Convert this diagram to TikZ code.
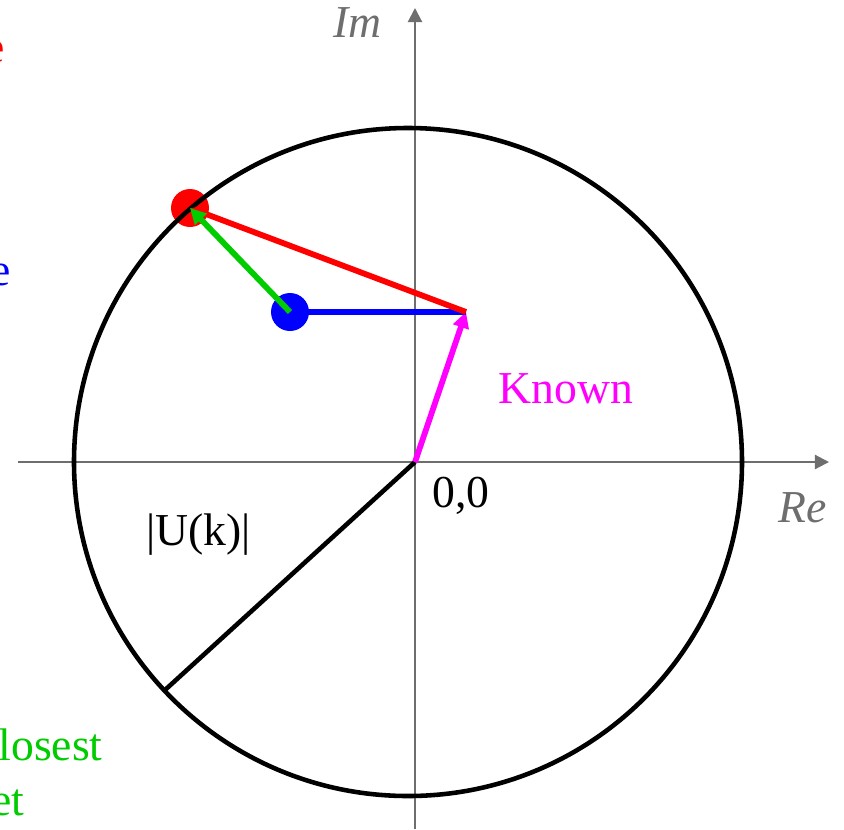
\documentclass[tikz,border=0pt]{standalone}
\usepackage{fontspec}
\setmainfont{Liberation Serif}
\usetikzlibrary{arrows.meta}
\definecolor{knownmag}{RGB}{255,0,255}
\definecolor{projgreen}{RGB}{0,204,0}
\definecolor{axisgray}{RGB}{110,110,110}

\begin{document}
\begin{tikzpicture}[
    x=0.02cm, y=-0.02cm,
    font=\fontsize{26}{30}\selectfont,
    axis/.style={draw=axisgray, line width=1.2pt, -{Triangle[length=8pt, width=8pt]}},
    vec/.style={line width=3.3pt, -{Triangle[length=9pt, width=9pt]}},
    dot/.style={circle, inner sep=0pt, minimum size=0.76cm},
    lab/.style={anchor=base west, inner sep=0pt},
]
\useasboundingbox (0,0) rectangle (844,829);

% --- Points ---
\coordinate (origin) at (415,462);
\coordinate (known)  at (466,312);
\coordinate (rim)    at (165,690);
\node[dot, fill=red]  (new) at (190,208) {};
\node[dot, fill=blue] (cur) at (290,312) {};

% --- Axes and circle ---
\draw[axis] (18,462) -- (829,462);
\draw[axis] (415,829) -- (415,8);
\draw[line width=2.6pt] (408,462) circle (334);
\draw[line width=2.6pt] (origin) -- (rim);

% --- Vectors ---
\draw[vec, knownmag] (origin) -- (known);
\draw[vec, blue] (known) -- (cur.center);
\draw[vec, red] (known) -- (new.center);
\draw[vec, projgreen] (cur.center) -- (new.center);

% --- Labels ---
\node[lab, text=axisgray] (im) at (333,37) {\itshape Im};
\node[lab, text=axisgray] (re) at (778,522) {\itshape Re};
\node[lab] (zero) at (432,507) {0,0};
\node[lab] (mag) at (146,545) {|U(k)|};
\node[lab, text=knownmag] (knownlab) at (498,403) {Known};
\node[anchor=base east, inner sep=0pt, text=red] (newlab) at (5,62) {New estimate};
\node[anchor=base east, inner sep=0pt, text=blue] (curlab) at (11,285) {Current estimate};
\node[anchor=base east, inner sep=0pt, text=projgreen] (projlab1) at (103,760) {Move to closest};
\node[anchor=base east, inner sep=0pt, text=projgreen] (projlab2) at (25,815) {point in set};

\end{tikzpicture}
\end{document}
